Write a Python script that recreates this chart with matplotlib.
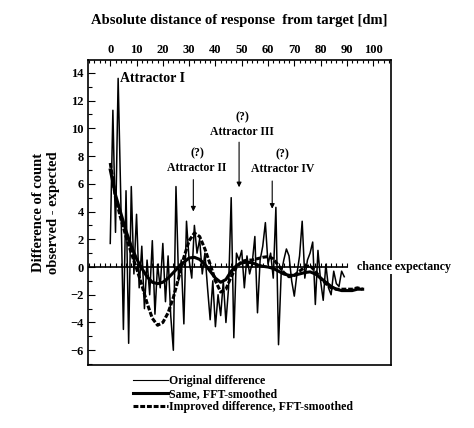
import matplotlib
matplotlib.use("Agg")
import matplotlib.pyplot as plt
import numpy as np
from matplotlib.ticker import MultipleLocator
from matplotlib.lines import Line2D

plt.rcParams['font.family'] = ['Liberation Serif', 'DejaVu Serif']

# raw difference, one value per dm
dist = np.arange(0, 90)
original = [1.7, 11.3, 2.5, 13.6, 5.0, -4.5, 5.5, -5.5, 5.8, -0.5,
            3.8, -1.5, 1.5, -3.0, 0.5, -2.0, 1.9, -3.4, 0.2, -1.5,
            1.7, -2.5, 0.8, -3.5, -6.0, 5.8, -1.0, 0.5, -4.1, 3.3,
            0.5, -0.8, 3.0, 1.0, 2.0, -0.5, 1.0, -1.5, -3.8, -1.0,
            -4.3, -2.0, -3.5, -1.0, -4.0, -1.5, 5.0, -5.1, 1.0, 0.5,
            1.2, -1.5, 0.8, -0.5, 0.3, 2.2, -3.3, 0.5, 1.5, 3.2,
            0.2, 1.0, -0.8, 4.3, -5.6, -0.5, 0.5, 1.3, 0.8, -1.0,
            -2.1, -0.5, 0.8, 3.3, -0.8, 0.5, 1.0, 1.8, -2.7, 1.2,
            -1.0, -2.4, 0.2, -1.5, -2.0, -0.3, -1.2, -1.4, -0.3, -0.7]

# smoothed curves, read every 2 dm
smooth_x = np.arange(0, 98, 2)
same_smooth = [7.0, 5.2, 3.9, 2.6, 1.5, 0.6, -0.1, -0.7, -1.1, -1.2,
               -1.1, -0.8, -0.4, 0.0, 0.35, 0.65, 0.7, 0.55, 0.2, -0.3,
               -0.8, -1.1, -0.9, -0.3, 0.1, 0.3, 0.35, 0.3, 0.15, 0.05,
               0.0, -0.1, -0.3, -0.5, -0.6, -0.6, -0.5, -0.4, -0.35, -0.5,
               -0.8, -1.1, -1.4, -1.6, -1.7, -1.7, -1.7, -1.6, -1.6]
improved_smooth = [7.5, 5.0, 3.5, 2.2, 1.0, -0.1, -1.3, -2.6, -3.7, -4.2,
                   -4.0, -3.3, -2.2, -0.8, 0.7, 1.9, 2.45, 2.2, 1.3, 0.2,
                   -1.0, -1.8, -1.6, -0.7, 0.0, 0.4, 0.5, 0.5, 0.6, 0.7,
                   0.75, 0.6, 0.1, -0.4, -0.7, -0.6, -0.3, 0.0, 0.1, -0.3,
                   -0.8, -1.2, -1.5, -1.6, -1.6, -1.6, -1.6, -1.5, -1.6]

# chance line
chance_x = np.arange(-8, 91, 2)
chance = np.zeros(len(chance_x))

# attractor labels: (text, text x, text y, arrow x, arrow start, arrow end)
attr_labels = ['(?)\nAttractor II', '(?)\nAttractor III', '(?)\nAttractor IV']
attr_text_x = [33.0, 50.2, 65.4]
attr_text_y = [6.7, 9.3, 6.6]
attr_arrow_x = [31.6, 49.0, 61.6]
attr_arrow_from = [6.5, 9.2, 6.4]
attr_arrow_to = [3.8, 5.55, 4.0]

fig = plt.figure(figsize=(4.74, 4.28), dpi=100)
ax = fig.add_axes([0.186, 0.147, 0.639, 0.713])

ax.plot(dist, original, color='black', lw=1.1)
ax.plot(smooth_x, same_smooth, color='black', lw=2.2)
ax.plot(smooth_x, improved_smooth, color='black', lw=2.2, ls=(0, (1.6, 0.6)))
ax.plot(chance_x, chance, color='black', lw=1.2, marker=2, markersize=3, markeredgewidth=0.8)

ax.set_xlim(-8.4, 106.8)
ax.set_ylim(-7.07, 14.93)

ax.xaxis.tick_top()
ax.xaxis.set_label_position('top')
ax.xaxis.set_major_locator(MultipleLocator(10))
ax.xaxis.set_minor_locator(MultipleLocator(2))
ax.yaxis.set_major_locator(MultipleLocator(2))
ax.yaxis.set_minor_locator(MultipleLocator(1))
ax.tick_params(axis='both', which='both', direction='in', width=0.8)
ax.tick_params(axis='x', which='major', length=4, pad=3)
ax.tick_params(axis='x', which='minor', length=2.5)
ax.tick_params(axis='y', which='major', length=5, pad=3)
ax.tick_params(axis='y', which='minor', length=3)
for lab in ax.get_xticklabels() + ax.get_yticklabels():
    lab.set_fontweight('bold')
    lab.set_fontsize(9)
for sp in ax.spines.values():
    sp.set_linewidth(1.2)

ax.set_xlabel('Absolute distance of response  from target [dm]', fontsize=10.5,
              fontweight='bold', labelpad=14)
ax.set_ylabel('Difference of count\nobserved - expected', fontsize=10.5,
              fontweight='bold', labelpad=8)

ax.text(3.8, 13.6, 'Attractor I', fontsize=10, fontweight='bold', va='center')
for lab, tx, ty, axx, a0, a1 in zip(attr_labels, attr_text_x, attr_text_y,
                                    attr_arrow_x, attr_arrow_from, attr_arrow_to):
    ax.text(tx, ty, lab, fontsize=8.5, fontweight='bold', ha='center', va='bottom',
            linespacing=1.3)
    ax.annotate('', xy=(axx, a1), xytext=(axx, a0),
                arrowprops=dict(arrowstyle='-|>', lw=0.8, color='black', mutation_scale=7))

ax.text(94, 0, 'chance expectancy', fontsize=8.6, fontweight='bold', va='center', ha='left',
        bbox=dict(facecolor='white', edgecolor='none', pad=1), clip_on=False, zorder=5)

handles = [Line2D([], [], color='black', lw=0.8),
           Line2D([], [], color='black', lw=2.2),
           Line2D([], [], color='black', lw=2.2, ls=(0, (1.6, 0.6)))]
fig.legend(handles, ['Original difference', 'Same, FFT-smoothed',
                     'Improved difference, FFT-smoothed'],
           loc='upper left', bbox_to_anchor=(0.268, 0.137), frameon=False,
           handlelength=2.9, handletextpad=0.1, labelspacing=0.06,
           borderpad=0, prop={'weight': 'bold', 'size': 8.6})

fig.savefig('out.png', dpi=100)
